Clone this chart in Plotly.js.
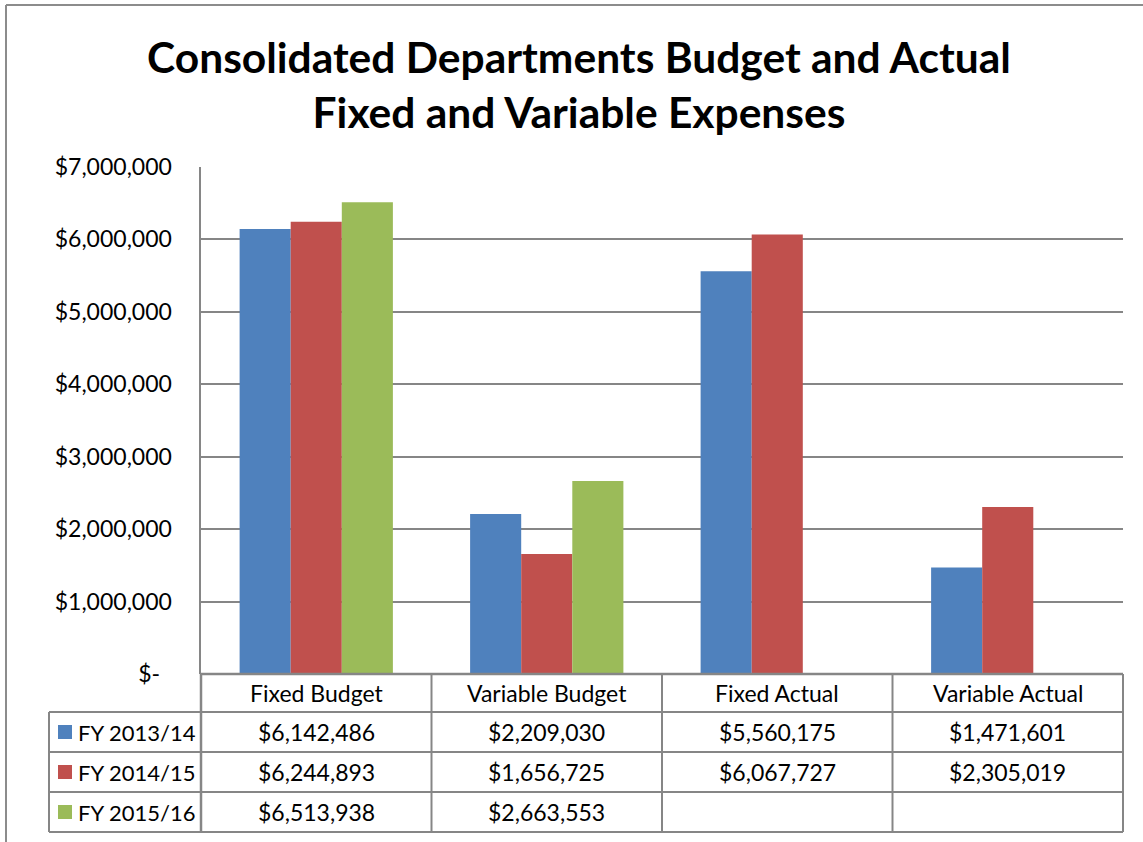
<!DOCTYPE html>
<html>
<head>
<meta charset="utf-8">
<script src="https://cdn.plot.ly/plotly-3.0.1.min.js"></script>
<style>html,body{margin:0;padding:0;background:#fff;}#chart{width:1143px;height:842px;}</style>
</head>
<body>
<div id="chart"></div>
<script>
// ---- data ----
const categories = ["Fixed Budget", "Variable Budget", "Fixed Actual", "Variable Actual"];
const seriesNames = ["FY 2013/14", "FY 2014/15", "FY 2015/16"];
const fy1314 = [6142486, 2209030, 5560175, 1471601];
const fy1415 = [6244893, 1656725, 6067727, 2305019];
const fy1516 = [6513938, 2663553, null, null];
const seriesColors = ["#4F81BD", "#C0504D", "#9BBB59"];
const tickVals = [0, 1000000, 2000000, 3000000, 4000000, 5000000, 6000000, 7000000];
const tickText = ["$-\u00a0\u00a0", "$1,000,000", "$2,000,000", "$3,000,000", "$4,000,000", "$5,000,000", "$6,000,000", "$7,000,000"];
const titleText = "Consolidated Departments Budget and Actual<br>Fixed and Variable Expenses";

// ---- layout geometry (pixels) ----
const W = 1143, H = 842;
const L = 201, R = 1123, T = 167, B = 674;
const pw = R - L, ph = B - T;
const px = p => (p - L) / pw;       // pixel x -> paper x
const py = p => (B - p) / ph;       // pixel y -> paper y
const FONT = "Lato, 'Carlito', 'Liberation Sans', sans-serif";
const gray = "#868686";

const allSeries = [fy1314, fy1415, fy1516];
const traces = allSeries.map((vals, i) => ({
  type: "bar",
  name: seriesNames[i],
  x: categories,
  y: vals,
  marker: { color: seriesColors[i], line: { width: 0 } },
  hoverinfo: "x+y+name"
}));

// table geometry
const colEdgesPx = [L, L + pw * 0.25, L + pw * 0.5, L + pw * 0.75, R];
const legendLeft = 49;
const rowEdgesPx = [B, 712, 752, 792, 832];

const shapes = [];
const line = (x0, y0, x1, y1, w, c) => shapes.push({
  type: "line", xref: "paper", yref: "paper",
  x0: px(x0), y0: py(y0), x1: px(x1), y1: py(y1),
  line: { color: c || gray, width: w || 2 }
});
// outer chart frame
line(6, 5, W + 5, 5, 2, "#8c8c8c");
line(6, 5, 6, H + 5, 2, "#8c8c8c");
// horizontal table lines
line(L, rowEdgesPx[0], R, rowEdgesPx[0], 2.5);
for (let r = 1; r < rowEdgesPx.length; r++) line(legendLeft, rowEdgesPx[r], R, rowEdgesPx[r], 2);
// vertical table lines
line(legendLeft, rowEdgesPx[1], legendLeft, rowEdgesPx[4], 2);
for (let c = 0; c < colEdgesPx.length; c++) line(colEdgesPx[c], rowEdgesPx[0], colEdgesPx[c], rowEdgesPx[4], c === 0 ? 2.5 : 2);

const annotations = [];
const txtFont = { family: FONT, size: 23, color: "#000" };
const legFont = { family: FONT, size: 22, color: "#000" };
// header row: categories
categories.forEach((c, i) => annotations.push({
  xref: "paper", yref: "paper",
  x: px((colEdgesPx[i] + colEdgesPx[i + 1]) / 2), y: py((rowEdgesPx[0] + rowEdgesPx[1]) / 2),
  text: c, showarrow: false, xanchor: "center", yanchor: "middle", font: txtFont
}));
const fmt = v => "$" + v.toLocaleString("en-US");
allSeries.forEach((vals, s) => {
  const yc = (rowEdgesPx[s + 1] + rowEdgesPx[s + 2]) / 2;
  // legend key
  shapes.push({
    type: "rect", xref: "paper", yref: "paper",
    x0: px(58), x1: px(72), y0: py(yc - 7), y1: py(yc + 7),
    fillcolor: seriesColors[s], line: { width: 0 }
  });
  annotations.push({
    xref: "paper", yref: "paper", x: px(76), y: py(yc),
    text: seriesNames[s], showarrow: false, xanchor: "left", yanchor: "middle", font: legFont
  });
  vals.forEach((v, i) => {
    if (v === null) return;
    annotations.push({
      xref: "paper", yref: "paper",
      x: px((colEdgesPx[i] + colEdgesPx[i + 1]) / 2), y: py(yc),
      text: fmt(v), showarrow: false, xanchor: "center", yanchor: "middle", font: txtFont
    });
  });
});

const layout = {
  width: W, height: H,
  paper_bgcolor: "#fff", plot_bgcolor: "#fff",
  margin: { l: L, r: W - R, t: T, b: H - B, pad: 0 },
  showlegend: false,
  barmode: "group",
  bargap: 0.335,
  bargroupgap: 0,
  title: {
    text: titleText,
    font: { family: FONT, size: 42.5, color: "#000", weight: "bold" },
    x: 579 / W, xref: "container", xanchor: "center",
    y: 1 - 73 / H, yref: "container", yanchor: "top"
  },
  xaxis: {
    type: "category", range: [-0.5, 3.5],
    showticklabels: false, showgrid: false, zeroline: false,
    showline: false, ticks: ""
  },
  yaxis: {
    range: [0, 7000000], tickvals: tickVals, ticktext: tickText,
    tickfont: { family: FONT, size: 23, color: "#000" },
    showgrid: true, gridcolor: gray, gridwidth: 2,
    zeroline: false, showline: true, linecolor: gray, linewidth: 2.5,
    ticks: "outside", ticklen: 22, tickcolor: "rgba(0,0,0,0)"
  },
  shapes: shapes,
  annotations: annotations
};

Plotly.newPlot("chart", traces, layout, { displayModeBar: false, staticPlot: true });
</script>
</body>
</html>
